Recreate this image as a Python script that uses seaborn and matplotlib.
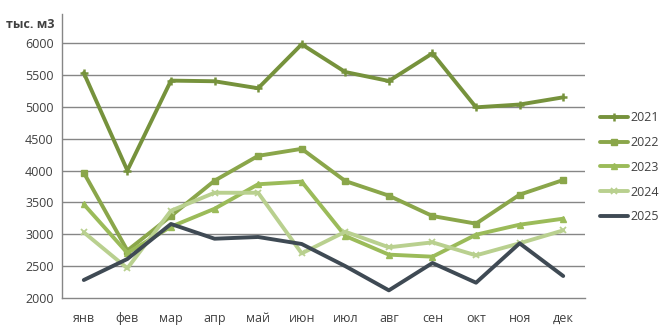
import matplotlib
matplotlib.use("Agg")
import matplotlib.pyplot as plt
import seaborn as sns
import numpy as np
import pandas as pd

months = ["янв", "фев", "мар", "апр", "май", "июн", "июл", "авг", "сен", "окт", "ноя", "дек"]
y2021 = [5530, 4000, 5410, 5400, 5290, 5980, 5545, 5404, 5838, 4991, 5035, 5148]
y2022 = [3965, 2745, 3286, 3840, 4230, 4340, 3835, 3605, 3286, 3166, 3621, 3851]
y2023 = [3470, 2706, 3118, 3400, 3784, 3825, 2973, 2680, 2648, 2993, 3150, 3244]
y2024 = [3030, 2466, 3369, 3651, 3651, 2700, 3040, 2795, 2873, 2669, 2858, 3061]
y2025 = [2282, 2612, 3161, 2930, 2957, 2847, 2500, 2120, 2549, 2240, 2858, 2345]
years = ["2021", "2022", "2023", "2024", "2025"]
series = [y2021, y2022, y2023, y2024, y2025]
y_ticks = [2000, 2500, 3000, 3500, 4000, 4500, 5000, 5500, 6000]
unit_label = "тыс. м3"

colors = ["#76923C", "#8AA64A", "#9BBB59", "#B9D08F", "#3F4A54"]
markers = ["+", "s", "^", "x", None]
msizes = [6, 5, 5, 5, 0]
mew = [1.8, 1, 1, 1.3, 0]

sns.set_theme(style="white")
plt.rcParams['font.family'] = ['Open Sans', 'DejaVu Sans']

df = pd.DataFrame({"month": months * len(years),
                   "x": list(range(12)) * len(years),
                   "value": sum(series, []),
                   "year": [y for y in years for _ in months]})

fig = plt.figure(figsize=(6.70, 3.31), dpi=100)
ax = fig.add_axes([62/670, 1 - 298/331, (585 - 62)/670, (298 - 14)/331])

for i, yr in enumerate(years):
    sub = df[df["year"] == yr]
    kw = {}
    if markers[i] is not None:
        kw = dict(marker=markers[i], markersize=msizes[i], markeredgewidth=mew[i],
                  markeredgecolor=colors[i], markerfacecolor=colors[i])
    sns.lineplot(data=sub, x="x", y="value", ax=ax, color=colors[i], linewidth=2.8,
                 label=yr, legend=False, **kw)

ax.set_xlim(-0.5, 11.5)
ax.set_ylim(2000, 6455)
ax.set_yticks(y_ticks)
ax.set_yticklabels([str(t) for t in y_ticks], fontsize=9, color="#404040")
ax.set_xticks(range(12))
ax.set_xticklabels(months, fontsize=9, color="#404040")
ax.set_xticks(np.arange(-0.5, 12, 1), minor=True)
ax.tick_params(axis="x", which="major", length=0, pad=10)
ax.tick_params(axis="x", which="minor", length=5, color="#868686", width=1, direction="out")
ax.tick_params(axis="y", length=0, pad=6)
ax.set_xlabel("")
ax.set_ylabel("")
for yv in y_ticks[1:]:
    ax.axhline(yv, color="#868686", linewidth=1, zorder=0)
for s in ["top", "right"]:
    ax.spines[s].set_visible(False)
ax.spines["left"].set_color("#868686")
ax.spines["bottom"].set_color("#868686")
ax.spines["left"].set_linewidth(1)
ax.spines["bottom"].set_linewidth(1)

fig.text(6/670, 1 - 24/331, unit_label, fontsize=9, color="#404040", fontweight="bold", va="center")

handles, labels = ax.get_legend_handles_labels()
leg = fig.legend(handles, labels, loc="upper left", bbox_to_anchor=(595/670, 1 - 106/331),
                 frameon=False, fontsize=9, handlelength=2.2, handletextpad=0.2,
                 labelspacing=0.95, borderaxespad=0)
for t in leg.get_texts():
    t.set_color("#404040")

fig.savefig("out.png", dpi=100)
